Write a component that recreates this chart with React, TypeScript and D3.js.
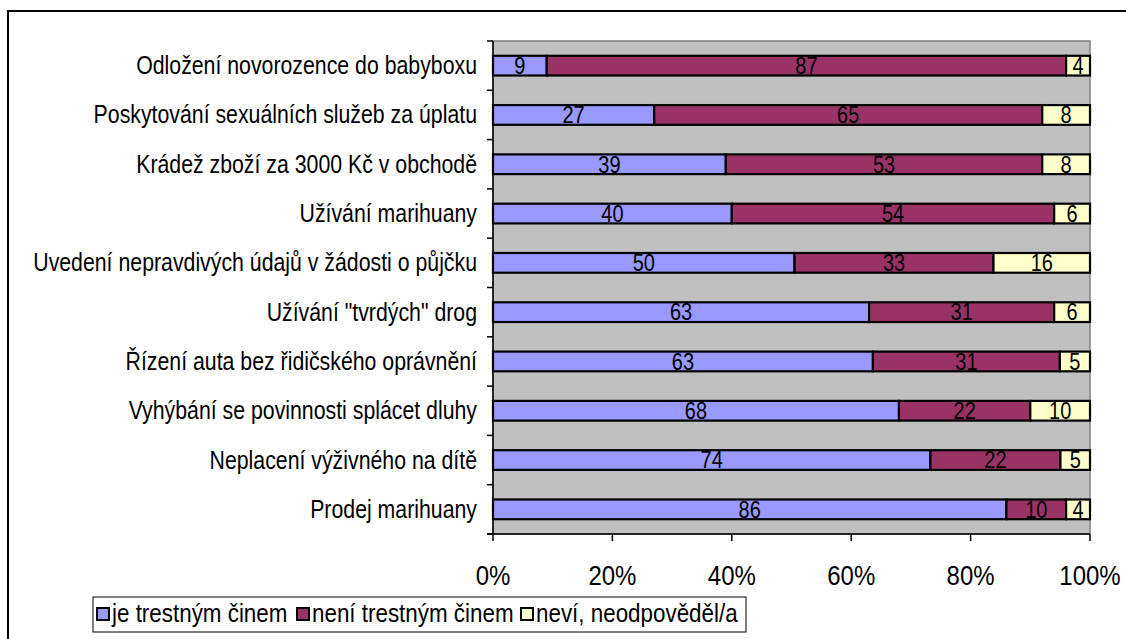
import React from "react";
import * as d3 from "d3";

const categories = [
  "Odložení novorozence do babyboxu",
  "Poskytování sexuálních služeb za úplatu",
  "Krádež zboží za 3000 Kč v obchodě",
  "Užívání marihuany",
  "Uvedení nepravdivých údajů v žádosti o půjčku",
  "Užívání \"tvrdých\" drog",
  "Řízení auta bez řidičského oprávnění",
  "Vyhýbání se povinnosti splácet dluhy",
  "Neplacení výživného na dítě",
  "Prodej marihuany",
];
const jeTrestnym = [9, 27, 39, 40, 50, 63, 63, 68, 74, 86];
const neniTrestnym = [87, 65, 53, 54, 33, 31, 31, 22, 22, 10];
const nevi = [4, 8, 8, 6, 16, 6, 5, 10, 5, 4];
const seriesNames = ["je trestným činem", "není trestným činem", "neví, neodpověděl/a"];
const seriesColors = ["#9999FF", "#993366", "#FFFFCC"];
const xTicks = [0, 0.2, 0.4, 0.6, 0.8, 1];

const W = 1126;
const H = 639;
const plot = { left: 493, right: 1090, top: 41, bottom: 534 };
const FONT = "'Liberation Sans', Arial, sans-serif";
const SY = 1.18;

function T({ x, y, size, anchor, children }: any) {
  return (
    <text
      transform={`translate(${x},${y}) scale(1,${SY})`}
      textAnchor={anchor || "start"}
      fontSize={size}
      fill="#000"
    >
      {children}
    </text>
  );
}

export default function App() {
  const keys = ["a", "b", "c"];
  const rows = categories.map((c, i) => ({
    cat: c,
    a: jeTrestnym[i],
    b: neniTrestnym[i],
    c: nevi[i],
  }));
  const stacked = d3
    .stack<any>()
    .keys(keys)
    .offset(d3.stackOffsetExpand)(rows);

  const x = d3.scaleLinear().domain([0, 1]).range([plot.left, plot.right]);
  const y = d3
    .scaleBand<string>()
    .domain(categories)
    .range([plot.top, plot.bottom])
    .paddingInner(0.6)
    .paddingOuter(0.3);
  const step = y.step();
  const bw = y.bandwidth();

  const legendItems = [
    { sq: 97, tx: 112 },
    { sq: 297, tx: 312 },
    { sq: 521, tx: 536 },
  ];

  return (
    <svg
      width={W}
      height={H}
      style={{ position: "absolute", left: 0, top: 0, background: "#fff" }}
      fontFamily={FONT}
    >
      {/* outer frame */}
      <path d={`M8,${H} L8,11 L${W},11`} fill="none" stroke="#000" strokeWidth={2} />

      {/* plot area */}
      <rect
        x={plot.left}
        y={plot.top}
        width={plot.right - plot.left}
        height={plot.bottom - plot.top}
        fill="#C0C0C0"
        stroke="#808080"
        strokeWidth={1.5}
      />

      {/* bars */}
      {stacked.map((s, si) => (
        <g key={si}>
          {s.map((d, i) => (
            <rect
              key={i}
              x={x(d[0])}
              y={y(categories[i])!}
              width={x(d[1]) - x(d[0])}
              height={bw}
              fill={seriesColors[si]}
              stroke="#000"
              strokeWidth={2.2}
            />
          ))}
        </g>
      ))}

      {/* data labels */}
      {stacked.map((s, si) => (
        <g key={"l" + si}>
          {s.map((d, i) => (
            <T
              key={i}
              x={(x(d[0]) + x(d[1])) / 2}
              y={y(categories[i])! + bw / 2 + 8.3}
              anchor="middle"
              size={20}
            >
              {(rows[i] as any)[keys[si]]}
            </T>
          ))}
        </g>
      ))}

      {/* axes */}
      <line x1={plot.left} y1={plot.top} x2={plot.left} y2={plot.bottom} stroke="#000" strokeWidth={1.5} />
      <line x1={plot.left - 6} y1={plot.bottom} x2={plot.right} y2={plot.bottom} stroke="#000" strokeWidth={1.5} />
      {d3.range(categories.length + 1).map((i) => (
        <line
          key={"yt" + i}
          x1={plot.left - 6}
          x2={plot.left}
          y1={plot.top + i * step}
          y2={plot.top + i * step}
          stroke="#000"
          strokeWidth={1.5}
        />
      ))}
      {xTicks.map((t) => (
        <g key={"xt" + t}>
          <line x1={x(t)} x2={x(t)} y1={plot.bottom} y2={plot.bottom + 7} stroke="#000" strokeWidth={1.5} />
          <T x={x(t)} y={585} anchor="middle" size={24}>
            {d3.format(".0%")(t)}
          </T>
        </g>
      ))}

      {/* category labels */}
      {categories.map((c) => (
        <T key={c} x={477} y={y(c)! + bw / 2 + 8.5} anchor="end" size={21.3}>
          {c}
        </T>
      ))}

      {/* legend */}
      <rect x={93} y={597} width={653} height={35} fill="#fff" stroke="#000" strokeWidth={1} />
      {seriesNames.map((n, i) => (
        <g key={n}>
          <rect
            x={legendItems[i].sq}
            y={608}
            width={12}
            height={12}
            fill={seriesColors[i]}
            stroke="#000"
            strokeWidth={2}
          />
          <T x={legendItems[i].tx} y={622} size={22.4}>
            {n}
          </T>
        </g>
      ))}
    </svg>
  );
}
